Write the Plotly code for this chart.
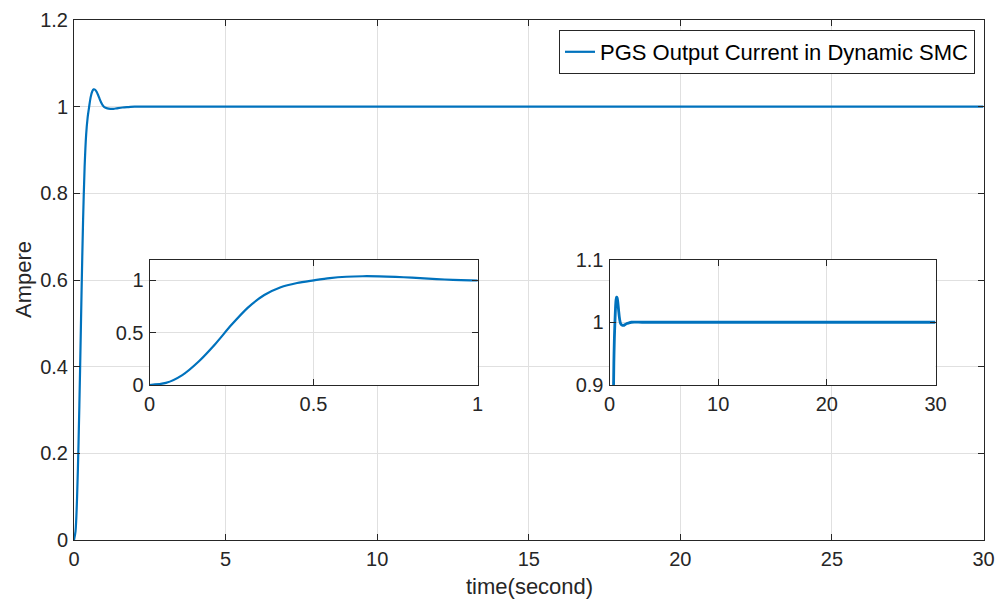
import plotly.graph_objects as go

# Data
time_s = [0, 0.05, 0.1, 0.15, 0.2, 0.25, 0.3, 0.35, 0.4, 0.45, 0.5, 0.55, 0.6, 0.65,
          0.7, 0.75, 0.8, 0.85, 0.9, 0.95, 1.0, 1.1, 1.2, 1.3, 1.4, 1.6, 1.8, 2.0,
          3.0, 5.0, 10.0, 15.0, 20.0, 25.0, 30.0]
current = [0, 0.02, 0.095, 0.225, 0.39, 0.575, 0.74, 0.86, 0.935, 0.975, 1.0, 1.022,
           1.035, 1.04, 1.039, 1.034, 1.026, 1.017, 1.009, 1.003, 0.999, 0.996, 0.995,
           0.995, 0.996, 0.998, 0.999, 1.0, 1.0, 1.0, 1.0, 1.0, 1.0, 1.0, 1.0]

main_xticks = [0, 5, 10, 15, 20, 25, 30]
main_yticks = [0, 0.2, 0.4, 0.6, 0.8, 1, 1.2]
in1_xticks = [0, 0.5, 1]
in1_yticks = [0, 0.5, 1]
in2_xticks = [0, 10, 20, 30]
in2_yticks = [0.9, 1, 1.1]

W, H = 995, 599
BLUE = "#0072BD"
AX = "#262626"
GRID = "#e0e0e0"
FONT = "Liberation Sans, Arial, sans-serif"
FS = 20

def px(x):
    return x / W

def py(y):
    return 1 - y / H

fig = go.Figure()
fig.add_trace(go.Scatter(x=time_s, y=current, mode="lines", line=dict(color=BLUE, width=2.2, shape="spline", smoothing=0.8),
                         name="PGS Output Current in Dynamic SMC", xaxis="x", yaxis="y"))
fig.add_trace(go.Scatter(x=time_s, y=current, mode="lines", line=dict(color=BLUE, width=2.2, shape="spline", smoothing=0.8),
                         showlegend=False, xaxis="x2", yaxis="y2"))
fig.add_trace(go.Scatter(x=time_s, y=current, mode="lines", line=dict(color=BLUE, width=2.8, shape="spline", smoothing=0.8),
                         showlegend=False, xaxis="x3", yaxis="y3"))

def axis_common(**kw):
    d = dict(showline=True, linecolor=AX, linewidth=1, mirror="ticks", ticks="inside", ticklen=6,
             tickcolor=AX, showgrid=True, gridcolor=GRID, gridwidth=1, zeroline=False,
             automargin=False, ticklabelstandoff=1, ticklabeloverflow="allow",
             tickfont=dict(family=FONT, size=FS, color=AX))
    d.update(kw)
    return d

fig.update_layout(
    width=W, height=H,
    margin=dict(l=0, r=0, t=0, b=0),
    paper_bgcolor="white", plot_bgcolor="white",
    font=dict(family=FONT, color=AX, size=FS),
    xaxis=axis_common(domain=[px(74), px(983.5)], range=[0, 30], tickvals=main_xticks, anchor="y"),
    yaxis=axis_common(domain=[py(540), py(20)], range=[0, 1.2], tickvals=main_yticks, anchor="x"),
    xaxis2=axis_common(domain=[px(149.5), px(477.5)], range=[0, 1], tickvals=in1_xticks, anchor="y2"),
    yaxis2=axis_common(domain=[py(385), py(259.5)], range=[0, 1.2], tickvals=in1_yticks, anchor="x2"),
    xaxis3=axis_common(domain=[px(609.5), px(935.5)], range=[0, 30], tickvals=in2_xticks, anchor="y3"),
    yaxis3=axis_common(domain=[py(385), py(259.5)], range=[0.9, 1.1], tickvals=in2_yticks, anchor="x3"),
    legend=dict(x=px(975), y=py(30), xanchor="right", yanchor="top", bgcolor="white",
                bordercolor=AX, borderwidth=1, font=dict(family=FONT, size=22, color="black"),
                itemwidth=30, tracegroupgap=0),
    showlegend=True,
    annotations=[
        dict(text="time(second)", xref="paper", yref="paper", x=px(529), y=py(586),
             xanchor="center", yanchor="middle", showarrow=False,
             font=dict(family=FONT, size=22, color=AX)),
        dict(text="Ampere", xref="paper", yref="paper", x=px(23), y=py(280),
             xanchor="center", yanchor="middle", showarrow=False, textangle=-90,
             font=dict(family=FONT, size=22, color=AX)),
    ],
)

# opaque white backgrounds for insets (drawn under inset grid, over main grid)
fig.add_shape(type="rect", xref="x2 domain", yref="y2 domain", x0=0, x1=1, y0=0, y1=1,
              fillcolor="white", line=dict(width=0), layer="below")
fig.add_shape(type="rect", xref="x3 domain", yref="y3 domain", x0=0, x1=1, y0=0, y1=1,
              fillcolor="white", line=dict(width=0), layer="below")

fig.write_html("out.html", config={"displayModeBar": False},
               post_script="document.body.style.margin='0';document.body.style.overflow='hidden';")
